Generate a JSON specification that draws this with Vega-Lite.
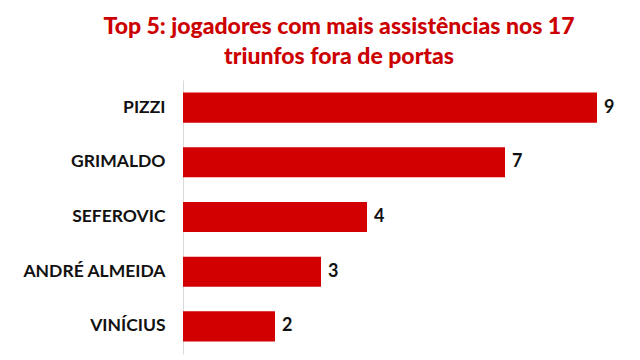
{
  "$schema": "https://vega.github.io/schema/vega-lite/v6.json",
  "width": 460,
  "height": 274,
  "autosize": {"type": "none"},
  "padding": {"left": 183, "top": 80, "right": 0, "bottom": 6},
  "background": "white",
  "title": {
    "text": ["Top 5: jogadores com mais assistências nos 17", "triunfos fora de portas"],
    "font": "Lato",
    "fontSize": 23,
    "fontWeight": 900,
    "color": "#cc0000",
    "anchor": "middle",
    "dx": -74,
    "offset": 11,
    "lineHeight": 30
  },
  "data": {
    "values": [
      {"player": "PIZZI", "assists": 9},
      {"player": "GRIMALDO", "assists": 7},
      {"player": "SEFEROVIC", "assists": 4},
      {"player": "ANDRÉ ALMEIDA", "assists": 3},
      {"player": "VINÍCIUS", "assists": 2}
    ]
  },
  "encoding": {
    "y": {
      "field": "player",
      "type": "nominal",
      "sort": null,
      "scale": {"paddingInner": 0.45, "paddingOuter": 0.23},
      "axis": {
        "title": null,
        "ticks": false,
        "domainColor": "#d9d9d9",
        "domainWidth": 1,
        "labelFont": "Lato",
        "labelFontSize": 17.5,
        "labelFontWeight": "bold",
        "labelColor": "#111111",
        "labelPadding": 18
      }
    },
    "x": {
      "field": "assists",
      "type": "quantitative",
      "scale": {"domain": [0, 10]},
      "axis": null
    }
  },
  "layer": [
    {"mark": {"type": "bar", "color": "#d20000"}},
    {
      "mark": {"type": "text", "align": "left", "dx": 7, "font": "Lato", "fontSize": 18, "fontWeight": "bold", "color": "#111111", "baseline": "middle"},
      "encoding": {"text": {"field": "assists", "type": "quantitative"}}
    }
  ],
  "config": {"view": {"stroke": null}}
}
